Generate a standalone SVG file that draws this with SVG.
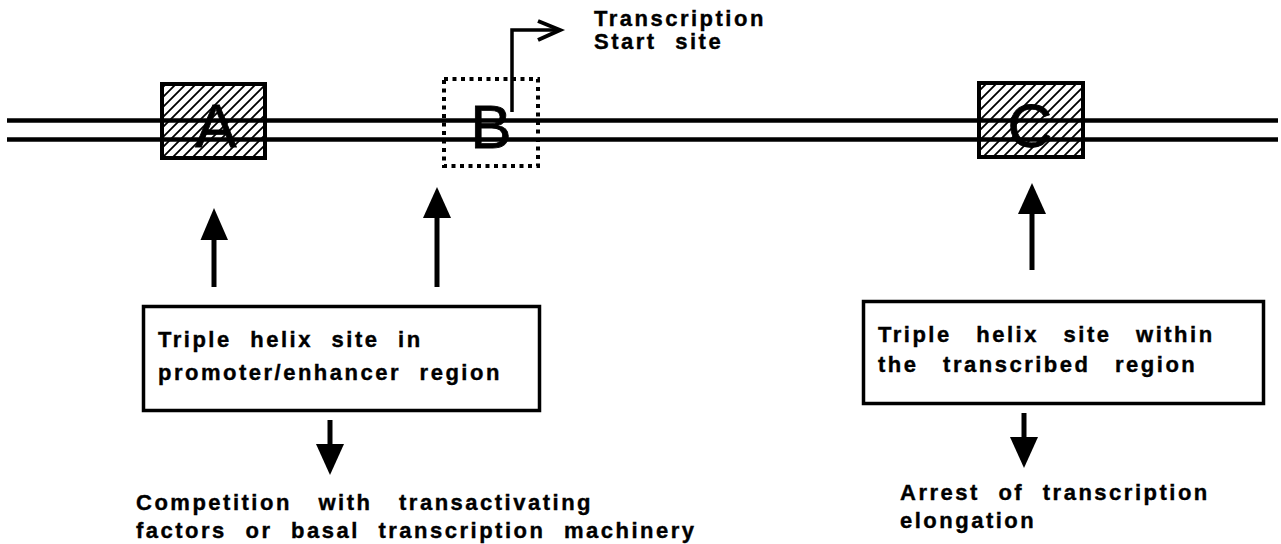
<svg xmlns="http://www.w3.org/2000/svg" width="1281" height="544" viewBox="0 0 1281 544">
<style>
.lbl{font-family:"Liberation Sans",Arial,sans-serif;font-weight:bold;font-size:22px;letter-spacing:2.5px;word-spacing:10px;fill:#000;stroke:#000;stroke-width:0.4}
.big{font-family:"Liberation Sans",Arial,sans-serif;font-size:62px;fill:#000;text-anchor:middle;stroke:#000;stroke-width:0.8}
.box{fill:#fff;stroke:#000;stroke-width:3.5}
.site{fill:url(#hatch);stroke:#000;stroke-width:4}
.dna{stroke:#000;stroke-width:4.5;fill:none}
.shaft{stroke:#000;stroke-width:5;fill:none}
.head{fill:#000;stroke:none}
</style>
<defs>
<pattern id="hatch" patternUnits="userSpaceOnUse" width="10" height="10">
<rect width="10" height="10" fill="#fff"/>
<path d="M-1,1 L1,-1 M0,10 L10,0 M9,11 L11,9" stroke="#000" stroke-width="1.8"/>
</pattern>
</defs>
<rect width="1281" height="544" fill="#fff"/>

<g id="siteA">
<rect class="site" x="162" y="84" width="103" height="74"/>
</g>
<g id="siteB">
<rect x="444" y="79" width="94" height="87" fill="none" stroke="#000" stroke-width="4" stroke-dasharray="4 4.5"/>
</g>
<g id="siteC">
<rect class="site" x="979" y="83" width="104" height="74"/>
</g>

<g id="dna">
<line class="dna" x1="7" y1="120.5" x2="1278" y2="120.5"/>
<line class="dna" x1="7" y1="139.5" x2="1278" y2="139.5"/>
</g>

<g id="letters">
<text class="big" x="216" y="147">A</text>
<text class="big" x="491" y="148">B</text>
<text class="big" x="1030" y="147">C</text>
</g>

<g id="tss">
<path d="M512,112 V30 H558" stroke="#000" stroke-width="3.5" fill="none"/>
<path d="M538,21 L560,30 L538,40" stroke="#000" stroke-width="4" fill="none"/>
<text class="lbl"><tspan x="594" y="26">Transcription</tspan><tspan x="594" y="49">Start site</tspan></text>
</g>

<g id="boxA">
<rect class="box" x="143.5" y="306.5" width="396" height="104"/>
<text class="lbl"><tspan x="158" y="347">Triple helix site in</tspan><tspan x="158" y="380">promoter/enhancer region</tspan></text>
</g>

<g id="boxC">
<rect class="box" x="863.5" y="301.5" width="400" height="102"/>
<text class="lbl" style="word-spacing:16px"><tspan x="878" y="342">Triple helix site within</tspan><tspan x="878" y="372">the transcribed region</tspan></text>
</g>

<g id="outcomeA">
<text class="lbl" style="word-spacing:18px"><tspan x="136" y="510">Competition with transactivating</tspan></text>
<text class="lbl"><tspan x="136" y="538">factors or basal transcription machinery</tspan></text>
</g>

<g id="outcomeC">
<text class="lbl"><tspan x="900" y="500">Arrest of transcription</tspan><tspan x="900" y="528">elongation</tspan></text>
</g>

<g id="connectors">
<line class="shaft" x1="214" y1="287" x2="214" y2="238"/>
<polygon class="head" points="200.5,240 214,208 228,240"/>
<line class="shaft" x1="437" y1="287" x2="437" y2="216"/>
<polygon class="head" points="423,218 437,187 451,218"/>
<line class="shaft" x1="1032" y1="270" x2="1032" y2="212"/>
<polygon class="head" points="1018,214 1032,183 1046,214"/>
<line class="shaft" x1="330" y1="420" x2="330" y2="446"/>
<polygon class="head" points="316,444 330,475 344,444"/>
<line class="shaft" x1="1024" y1="413" x2="1024" y2="439"/>
<polygon class="head" points="1010,437 1024,468 1038,437"/>
</g>
</svg>
